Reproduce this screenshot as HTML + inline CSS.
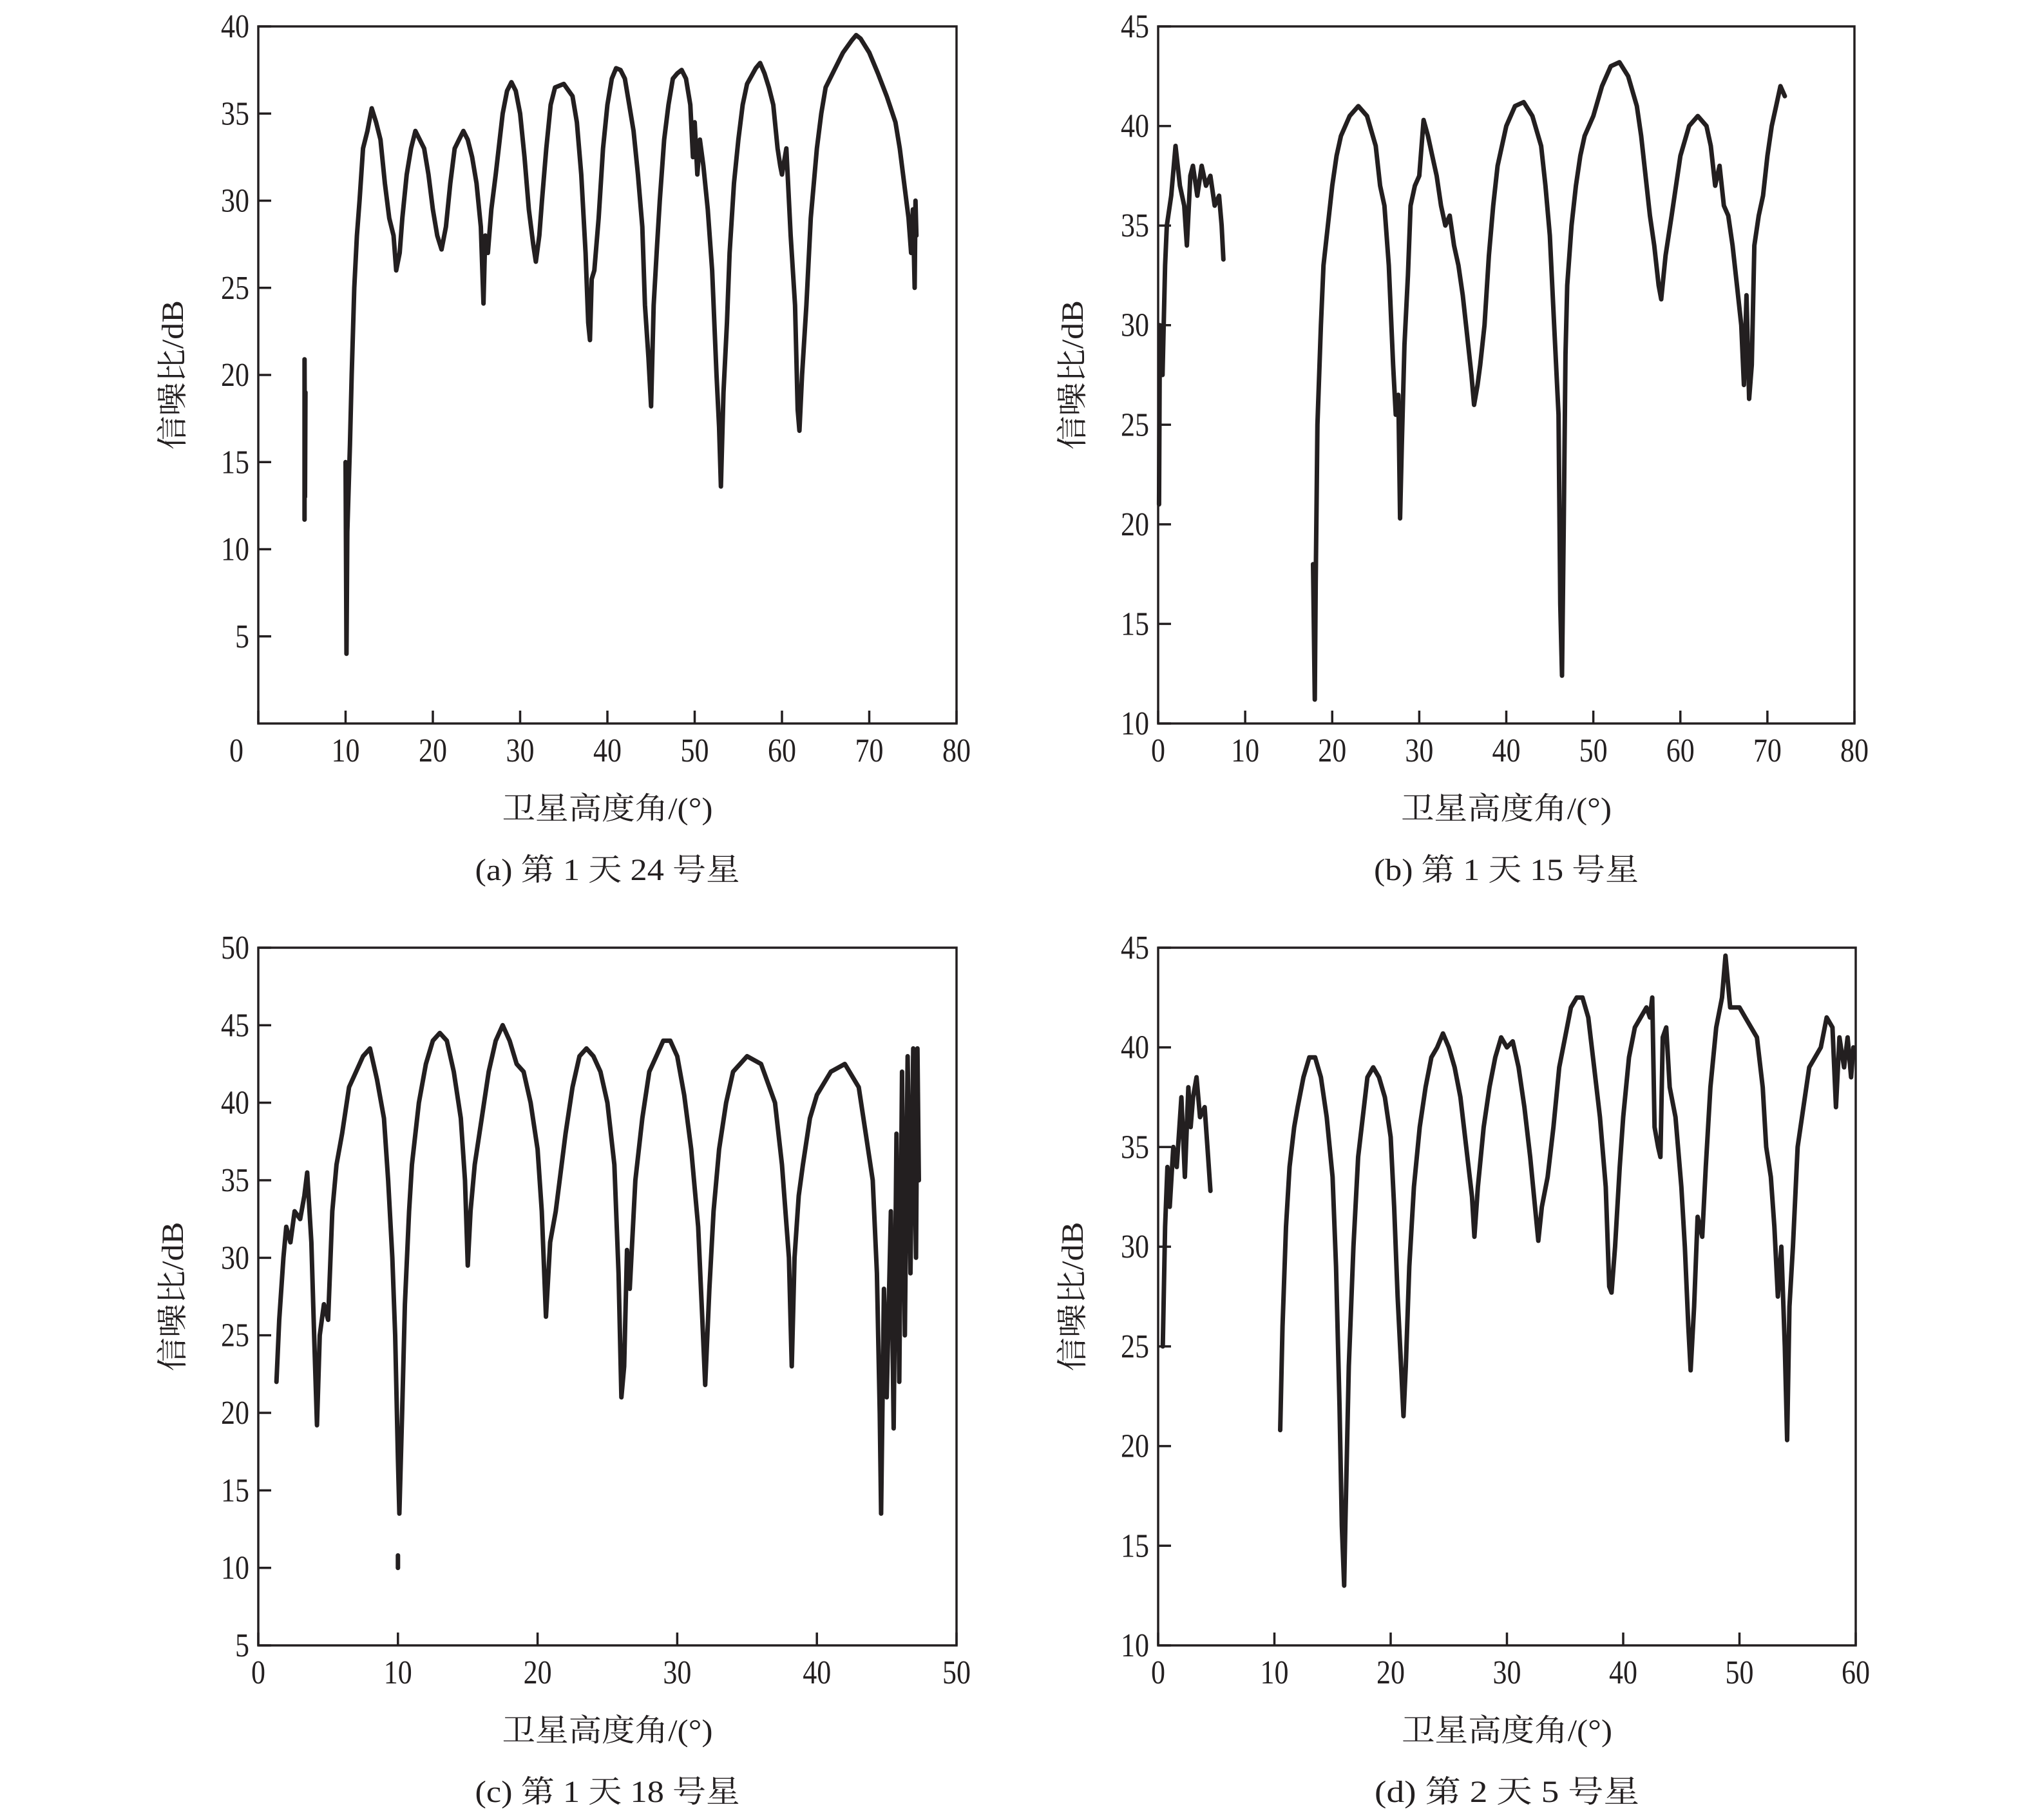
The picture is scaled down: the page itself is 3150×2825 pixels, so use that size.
<!DOCTYPE html>
<html><head><meta charset="utf-8"><style>
html,body{margin:0;padding:0;background:#fff;}
svg{display:block;}
text{fill:#231f20;}
</style></head><body>
<svg id="fig" width="3150" height="2825" viewBox="0 0 3150 2825" xmlns="http://www.w3.org/2000/svg"></svg>
<script>
// ---- Panel (a) data: day 1, satellite 24 ----
const aSeg1X = [5.3,5.3,5.35,5.4];
const aSeg1Y = [11.7,20.9,13,19];
const aSeg2X = [10.0,10.1,10.2,10.5,10.7,11,11.3,11.6,12,12.5,13,13.5,14,14.5,15,15.5,15.8,16.2,16.5,17,17.5,18,18.5,19,19.5,20,20.5,21,21.5,22,22.5,23,23.5,24,24.5,25,25.5,25.8,26,26.3,26.7,27.2,28,28.5,29,29.5,30,30.5,31,31.5,31.8,32.2,32.5,33,33.5,34,35,36,36.5,37,37.5,37.8,38,38.2,38.5,39,39.5,40,40.5,41,41.5,42,42.5,43,43.5,44,44.3,44.7,45,45.3,45.7,46,46.5,47,47.5,48,48.5,49,49.5,49.8,50,50.3,50.6,51,51.5,52,52.5,52.8,53,53.3,53.7,54,54.5,55,55.5,56,57,57.5,58,58.5,59,59.5,59.8,60,60.5,61,61.5,61.8,62,62.3,62.8,63.3,64,64.5,65,66,67,68,68.5,69,70,71,72,73,73.5,74,74.5,74.8,75,75.2,75.3,75.4];
const aSeg2Y = [15,4,11,16,20,25,28,30,33,34,35.3,34.5,33.5,31,29,28,26,27,29,31.5,33,34,33.5,33,31.5,29.5,28,27.2,28.5,31,33,33.5,34,33.5,32.5,31,28.5,24.1,28,27,29.5,31.5,35,36.3,36.8,36.3,35,32.5,29.5,27.5,26.5,28,30,33,35.5,36.5,36.7,36,34.5,31.5,27,23,22,25.5,26,29,33,35.5,37,37.6,37.5,37,35.5,34,31.5,28.5,24,21,18.2,24,27.5,30,33.5,35.5,37,37.3,37.5,37,35.5,32.5,34.5,31.5,33.5,32,29.5,26,20,17,13.6,19,23,27,31,33.5,35.5,36.7,37.6,37.9,37.3,36.5,35.5,33,32,31.5,33,28,24,18,16.8,20,24,29,33,35,36.5,37.5,38.5,39.2,39.5,39.3,38.5,37.3,36,34.5,33,31,29,27,29.5,25,30,28];
// ---- Panel (b) data: day 1, satellite 15 ----
const bSeg1X = [0.1,0.2,0.5,0.8,1,1.5,2,2.5,3,3.3,3.7,4,4.5,5,5.5,6,6.5,7,7.3,7.5];
const bSeg1Y = [21,30,27.5,33,35,36.5,39,37,36,34,37.5,38,36.5,38,37,37.5,36,36.5,35,33.3];
const bSeg2X = [17.8,18,18.1,18.3,18.7,19,19.5,20,20.5,21,22,23,24,25,25.5,26,26.5,27,27.3,27.6,27.8,28,28.3,28.7,29,29.5,30,30.5,31,31.5,32,32.5,33,33.5,34,34.5,35,35.5,36,36.3,36.7,37,37.5,38,38.5,39,40,41,42,43,44,44.5,45,45.5,46,46.2,46.4,46.6,46.8,47,47.5,48,48.5,49,50,51,52,53,54,55,55.5,56,56.5,57,57.5,57.8,58.3,59,59.5,60,61,62,63,63.5,64,64.5,65,65.5,66,66.5,67,67.3,67.6,67.9,68.2,68.5,69,69.5,70,70.5,71,71.5,72];
const bSeg2Y = [18,11.2,17,25,30,33,35,37,38.5,39.5,40.5,41,40.5,39,37,36,33,28,25.5,26.5,20.3,24,29,32.5,36,37,37.5,40.3,39.5,38.5,37.5,36,35,35.5,34,33,31.5,29.5,27.5,26,27,28,30,33.5,36,38,40,41,41.2,40.5,39,37,34.5,30,25.5,16,12.4,20,28.5,32,35,37,38.5,39.5,40.5,42,43,43.2,42.5,41,39.5,37.5,35.5,34,32,31.3,33.5,35.5,37,38.5,40,40.5,40,39,37,38,36,35.5,34,32,30,27,31.5,26.3,28,34,35.5,36.5,38.5,40,41,42,41.5];
// ---- Panel (c) data: day 1, satellite 18 ----
const cSeg1X = [1.3,1.5,1.8,2,2.3,2.6,3,3.3,3.5,3.8,4,4.2,4.4,4.7,5,5.3,5.6,6,6.5,7,7.5,8,8.5,9,9.3,9.6,9.8,10,10.1,10.3,10.5,10.8,11,11.5,12,12.5,13,13.5,14,14.5,14.8,15,15.2,15.5,16,16.5,17,17.5,18,18.5,19,19.5,20,20.3,20.6,20.9,21.3,22,22.5,23,23.5,24,24.5,25,25.5,25.8,26,26.2,26.4,26.6,27,27.5,28,28.5,29,29.5,30,30.5,31,31.5,31.8,32,32.3,32.6,33,33.5,34,34.5,35,36,37,37.5,38,38.2,38.4,38.7,39,39.5,40,41,42,43,43.5,44,44.3,44.5,44.6,44.8,45,45.3,45.5,45.7,45.9,46.1,46.3,46.5,46.7,46.9,47.1,47.2,47.3];
const cSeg1Y = [22,26,30,32,31,33,32.5,34,35.5,31,25,19.2,25,27,26,33,36,38,41,42,43,43.5,41.5,39,35,30,25,17,13.5,20,27,33,36,40,42.5,44,44.5,44,42,39,35,29.5,33,36,39,42,44,45,44,42.5,42,40,37,33,26.2,31,33,38,41,43,43.5,43,42,40,36,29,21,23,30.5,28,35,39,42,43,44,44,43,40.5,37,32,26,21.8,28,33,37,40,42,42.5,43,42.5,40,36,30,23,30,34,36,39,40.5,42,42.5,41,38,35,29,20,13.5,28,21,33,19,38,22,42,25,43,29,43.5,30,43.5,35];
const cSeg2X = [10,10];
const cSeg2Y = [10,10.8];
// ---- Panel (d) data: day 2, satellite 5 ----
const dSeg1X = [0.4,0.6,0.8,1,1.3,1.6,2,2.3,2.6,2.8,3,3.3,3.6,4,4.3,4.5];
const dSeg1Y = [25,31,34,32,35,34,37.5,33.5,38,36,37.5,38.5,36.5,37,34.5,32.8];
const dSeg2X = [10.5,10.7,11,11.3,11.7,12,12.5,13,13.5,14,14.5,15,15.3,15.6,15.8,16,16.1,16.4,16.8,17.2,17.7,18,18.5,19,19.5,20,20.3,20.6,20.9,21.1,21.3,21.6,22,22.5,23,23.5,24,24.5,25,25.5,26,26.5,27,27.2,27.5,28,28.5,29,29.5,30,30.5,31,31.5,32,32.5,32.7,33,33.5,34,34.5,35,35.5,36,36.5,37,37.5,38,38.5,38.8,39,39.3,39.7,40,40.5,41,41.5,42,42.3,42.5,42.7,43,43.2,43.4,43.7,44,44.5,45,45.3,45.6,45.8,46.1,46.4,46.8,47.1,47.5,48,48.5,48.8,49.2,50,50.5,51,51.5,52,52.3,52.7,53,53.3,53.6,53.9,54.1,54.3,54.6,55,55.5,56,56.5,57,57.5,58,58.3,58.6,59,59.3,59.6,59.8];
const dSeg2Y = [20.8,26,31,34,36,37,38.5,39.5,39.5,38.5,36.5,33.5,29,22,16,13,16,24,30,34.5,37,38.5,39,38.5,37.5,35.5,32,27.5,24,21.5,24,29,33,36,38,39.5,40,40.7,40,39,37.5,35,32.5,30.5,33,36,38,39.5,40.5,40,40.3,39,37,34.5,31.5,30.3,32,33.5,36,39,40.5,42,42.5,42.5,41.5,39,36.5,33,28,27.7,30,34,36.5,39.5,41,41.5,42,41.5,42.5,36,35,34.5,40.5,41,38,36.5,33,30,26,23.8,27,31.5,30.5,34,38,41,42.5,44.6,42,42,41.5,41,40.5,38,35,33.5,31,27.5,30,25,20.3,27,30,35,37,39,39.5,40,41.5,41,37,40.5,39,40.5,38.5,40];
// ---- Tick labels ----
const aXTicks = [0,10,20,30,40,50,60,70,80];
const aYTicks = [5,10,15,20,25,30,35,40];
const bXTicks = [0,10,20,30,40,50,60,70,80];
const bYTicks = [10,15,20,25,30,35,40,45];
const cXTicks = [0,10,20,30,40,50];
const cYTicks = [5,10,15,20,25,30,35,40,45,50];
const dXTicks = [0,10,20,30,40,50,60];
const dYTicks = [10,15,20,25,30,35,40,45];

const NS = 'http://www.w3.org/2000/svg';
const svg = document.getElementById('fig');
const INK = '#231f20';
const FONT = '"Liberation Serif","Noto Serif CJK SC",serif';

function mk(tag, attrs, parent){
  const e = document.createElementNS(NS, tag);
  for (const k in attrs) e.setAttribute(k, attrs[k]);
  (parent||svg).appendChild(e);
  return e;
}

function panel(id, box, xMin, xMax, yMin, yMax, xTicks, yTicks, segs, caption, zeroShift){
  const g = mk('g', {});
  
  
  const {L,T,R,B} = box;
  const sx = v => L + (v - xMin) / (xMax - xMin) * (R - L);
  const sy = v => B - (v - yMin) / (yMax - yMin) * (B - T);

  segs.forEach((s, i) => {
    let d = '';
    s[0].forEach((x, j) => { d += (j ? 'L' : 'M') + sx(x).toFixed(1) + ',' + sy(s[1][j]).toFixed(1); });
    const p = mk('path', {d: d, fill: 'none', stroke: INK, 'stroke-width': 7, 'stroke-linejoin': 'round', 'stroke-linecap': 'round'}, g);
    
    
  });

  const fr = mk('rect', {x: L, y: T, width: R - L, height: B - T, fill: 'none', stroke: INK, 'stroke-width': 3.5}, g);
  
  

  xTicks.forEach(v => {
    const x = sx(v);
    const t = mk('line', {x1: x, y1: B, x2: x, y2: B - 20, stroke: INK, 'stroke-width': 3.5}, g);
    
    
    const s = String(v);
    const lx = (v === 0 && zeroShift) ? x - 34 : x;
    const tx = mk('text', {x: lx, y: B + 59, 'font-size': 52, 'font-family': FONT, 'text-anchor': 'middle', textLength: s.length * 22, lengthAdjust: 'spacingAndGlyphs'}, g);
    tx.textContent = s;
    
    
  });
  yTicks.forEach(v => {
    const y = sy(v);
    const t = mk('line', {x1: L, y1: y, x2: L + 20, y2: y, stroke: INK, 'stroke-width': 3.5}, g);
    
    
    const s = String(v);
    const tx = mk('text', {x: L - 14, y: y + 17, 'font-size': 52, 'font-family': FONT, 'text-anchor': 'end', textLength: s.length * 22, lengthAdjust: 'spacingAndGlyphs'}, g);
    tx.textContent = s;
    
    
  });

  const cx = (L + R) / 2, cy = (T + B) / 2;
  const xt = mk('text', {x: cx, y: B + 148, 'font-size': 48, 'font-family': FONT, 'text-anchor': 'middle', textLength: 327, lengthAdjust: 'spacingAndGlyphs'}, g);
  xt.textContent = '卫星高度角/(°)';
  
  

  const yt = mk('text', {x: 0, y: 0, 'font-size': 48, 'font-family': FONT, 'text-anchor': 'middle', textLength: 232, lengthAdjust: 'spacingAndGlyphs', transform: 'translate(' + (L - 117) + ',' + cy + ') rotate(-90)'}, g);
  yt.textContent = '信噪比/dB';
  
  

  const cp = mk('text', {x: cx, y: B + 243, 'font-size': 48, 'font-family': FONT, 'text-anchor': 'middle', textLength: caption.length > 13 ? 411 : 380, lengthAdjust: 'spacingAndGlyphs'}, g);
  cp.textContent = caption;
  
  
}

panel('a', {L:401,T:41,R:1485,B:1123}, 0, 80, 0, 40, aXTicks, aYTicks, [[aSeg1X,aSeg1Y],[aSeg2X,aSeg2Y]], '(a) 第 1 天 24 号星', true);
panel('b', {L:1798,T:41,R:2879,B:1123}, 0, 80, 10, 45, bXTicks, bYTicks, [[bSeg1X,bSeg1Y],[bSeg2X,bSeg2Y]], '(b) 第 1 天 15 号星', false);
panel('c', {L:401,T:1471,R:1485,B:2554}, 0, 50, 5, 50, cXTicks, cYTicks, [[cSeg1X,cSeg1Y],[cSeg2X,cSeg2Y]], '(c) 第 1 天 18 号星', false);
panel('d', {L:1798,T:1471,R:2881,B:2554}, 0, 60, 10, 45, dXTicks, dYTicks, [[dSeg1X,dSeg1Y],[dSeg2X,dSeg2Y]], '(d) 第 2 天 5 号星', false);
</script>
</body></html>
